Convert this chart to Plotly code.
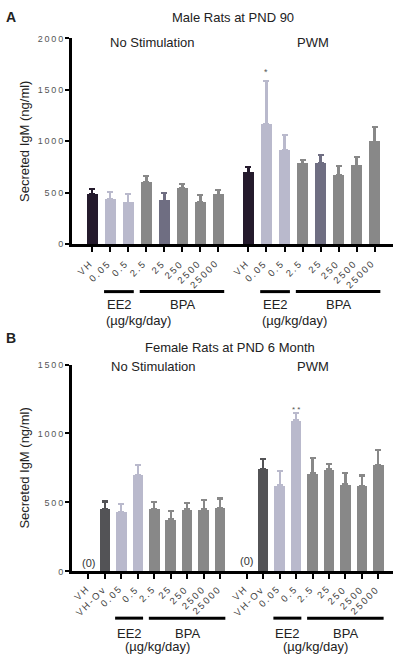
import plotly.graph_objects as go

# ---------------- data ----------------
cats_A = ["VH", "0.05", "0.5", "2.5", "25", "250", "2500", "25000"]
a_nostim = [484, 433, 401, 603, 420, 542, 407, 478]
a_nostim_err = [54, 73, 89, 57, 77, 45, 74, 51]
a_pwm = [692, 1167, 910, 782, 785, 667, 763, 994]
a_pwm_err = [61, 419, 154, 35, 84, 89, 86, 141]

cats_B = ["VH", "VH-Ov", "0.05", "0.5", "2.5", "25", "250", "2500", "25000"]
b_nostim = [0, 455, 431, 700, 455, 376, 448, 450, 462]
b_nostim_err = [0, 52, 59, 74, 47, 64, 45, 69, 67]
b_pwm = [0, 745, 624, 1095, 710, 738, 633, 619, 774]
b_pwm_err = [0, 72, 102, 53, 111, 41, 81, 76, 105]

ticks_A = [0, 500, 1000, 1500, 2000]
ticks_B = [0, 500, 1000, 1500]

DARK_A = "#241a2c"
DARK_B = "#535356"
LIGHT = "#b9b9cc"
GRAY = "#888888"
SLATE = "#6f6e82"
colors_A = [DARK_A, LIGHT, LIGHT, GRAY, SLATE, GRAY, GRAY, GRAY]
colors_B = [DARK_B, DARK_B, LIGHT, LIGHT, GRAY, GRAY, GRAY, GRAY, GRAY]

W, H = 400, 665
fig = go.Figure()

def py(p):
    return 1 - p / H

def spaced(s):
    return "\u2009".join(list(s))

off_A = 8.667
off_B = 9.62
pos_A = list(range(len(cats_A))) + [i + off_A for i in range(len(cats_A))]
pos_B = list(range(len(cats_B))) + [i + off_B for i in range(len(cats_B))]

vals_A = a_nostim + a_pwm
errs_A = a_nostim_err + a_pwm_err
cols_A = colors_A + colors_A
vals_B = b_nostim + b_pwm
errs_B = b_nostim_err + b_pwm_err
cols_B = colors_B + colors_B

def add_bars(pos, vals, errs, cols, xa, ya):
    for x, v, e, c in zip(pos, vals, errs, cols):
        if v == 0:
            continue
        fig.add_trace(go.Bar(
            x=[x], y=[v], width=0.64, marker=dict(color=c, line=dict(width=0)),
            error_y=dict(type="data", array=[e], arrayminus=[0], symmetric=False,
                         color=c, thickness=2.2, width=3),
            xaxis=xa, yaxis=ya, showlegend=False, hoverinfo="skip"))

add_bars(pos_A, vals_A, errs_A, cols_A, "x", "y")
add_bars(pos_B, vals_B, errs_B, cols_B, "x2", "y2")

FONT = "Liberation Sans, Arial"
xdom = [72 / W, 393 / W]
ytickfont = dict(family=FONT, size=9, color="#555555")

def xaxis(pos, rng, anchor):
    return dict(domain=xdom, range=rng, tickmode="array", tickvals=pos,
                showticklabels=False, ticks="outside",
                ticklen=5, tickwidth=2, tickcolor="black", showline=True,
                linewidth=3, linecolor="black", showgrid=False, zeroline=False,
                anchor=anchor, fixedrange=True)

def yaxis(dom, rng, tv, anchor):
    return dict(domain=dom, range=rng, tickmode="array", tickvals=tv,
                ticktext=[spaced(str(t)) for t in tv], ticks="outside", ticklen=4,
                tickwidth=2, tickcolor="black", showline=True, linewidth=3,
                linecolor="black", showgrid=False, zeroline=False,
                tickfont=ytickfont, anchor=anchor, fixedrange=True,
                title=dict(text="Secreted IgM (ng/ml)", standoff=6,
                           font=dict(family=FONT, size=13, color="#222")))

fig.update_layout(
    width=W, height=H, margin=dict(l=0, r=0, t=0, b=0),
    paper_bgcolor="white", plot_bgcolor="white", bargap=0,
    xaxis=xaxis(pos_A, [-1.13, 16.69], "y"),
    yaxis=yaxis([py(242.7), py(34)], [0, 2000], ticks_A, "x"),
    xaxis2=xaxis(pos_B, [-1.0, 18.51], "y2"),
    yaxis2=yaxis([py(575), py(365)], [0, 1500], ticks_B, "x2"),
)

ann = []
def txt(x, y, s, size=13, xref="paper", bold=False, color="#222222"):
    ann.append(dict(x=x if xref != "paper" else x / W, y=py(y), xref=xref, yref="paper",
                    text=("<b>%s</b>" % s) if bold else s, showarrow=False,
                    xanchor="center", yanchor="middle",
                    font=dict(family=FONT, size=size, color=color)))

# rotated category tick labels
def ticklabels(pos, labels, y, xref, dx):
    for x, l in zip(pos, labels + labels):
        ann.append(dict(x=x + dx, y=py(y), xref=xref, yref="paper",
                        text=spaced(l), showarrow=False, textangle=-45,
                        xanchor="right", yanchor="top", borderpad=0,
                        font=dict(family=FONT, size=9.5, color="#444444")))

ticklabels(pos_A, cats_A, 256.5, "x", 0.14)
ticklabels(pos_B, cats_B, 587, "x2", 0.2)

txt(11, 12, "A", 14, bold=True)
txt(233, 13, "Male Rats at PND 90", 13)
txt(152, 38, "No Stimulation", 13)
txt(313, 38, "PWM", 13)
txt(11, 338, "B", 14, bold=True)
txt(230, 348, "Female Rats at PND 6 Month", 13)
txt(153, 367, "No Stimulation", 13)
txt(313, 367, "PWM", 13)

# significance marks
txt(1 + off_A, 68, "*", 9, xref="x", color="#555")
txt(3 + off_B, 411, "* *", 8, xref="x2", color="#555")
# zero-value labels
txt(0, 567, "(0)", 11, xref="x2", color="#333")
txt(off_B, 564, "(0)", 11, xref="x2", color="#333")

# group lines and labels
shapes = []
def gline(x0, x1, y, xref):
    shapes.append(dict(type="line", xref=xref, yref="paper", x0=x0, x1=x1,
                       y0=py(y), y1=py(y), line=dict(color="black", width=3)))

for off in (0, off_A):
    gline(1 - 0.35 + off, 2 + 0.30 + off, 291, "x")
    gline(3 - 0.37 + off, 7 + 0.32 + off, 291, "x")
    txt(1.5 + off, 304, "EE2", 13, xref="x")
    txt(5 + off, 304, "BPA", 13, xref="x")
    txt(2.55 + off, 320, "(µg/kg/day)", 13, xref="x")

for off in (0, off_B):
    gline(2 - 0.38 + off, 3 + 0.32 + off, 622.5, "x2")
    gline(4 - 0.33 + off, 8 + 0.32 + off, 622.5, "x2")
    txt(2.5 + off, 638.5, "EE2", 13, xref="x2")
    txt(6 + off, 638.5, "BPA", 13, xref="x2")
    txt(4.2 + off, 651.5, "(µg/kg/day)", 13, xref="x2")

fig.update_layout(annotations=ann, shapes=shapes)
fig.write_html("out.html", config={"displayModeBar": False},
               post_script="document.body.style.margin='0';document.body.style.padding='0';")
